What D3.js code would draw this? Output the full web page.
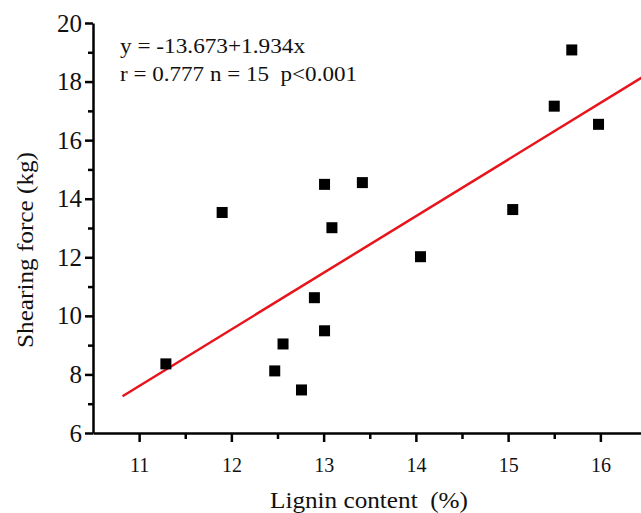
<!DOCTYPE html>
<html lang="en">
<head>
    <meta charset="UTF-8">
    <title>Shearing force vs lignin content</title>
    <script src="https://d3js.org/d3.v7.min.js"></script>
    <style>
        body { margin: 0; background: #fff; }
        svg { display: block; }
        .axis path, .axis line { stroke: #000; stroke-width: 2.5; }
    </style>
</head>
<body>
    <div id="chart"></div>
    <script>
        const width = 641;
        const height = 513;

        // data
        const lignin = [11.29, 11.90, 12.47, 12.56, 12.76, 12.90, 13.01, 13.01, 13.09, 13.42, 14.05, 15.05, 15.50, 15.69, 15.98];
        const shearing = [8.36, 13.53, 8.12, 9.04, 7.47, 10.62, 9.49, 14.49, 13.01, 14.55, 12.02, 13.63, 17.16, 19.08, 16.54];
        const xTicks = [11, 12, 13, 14, 15, 16];
        const yTicks = [6, 8, 10, 12, 14, 16, 18, 20];
        const fitIntercept = -13.673;
        const fitSlope = 1.934;
        const fitRange = [10.82, 16.6];
        const statLines = ["y = -13.673+1.934x", "r = 0.777 n = 15  p<0.001"];

        const svg = d3.select("#chart").append("svg")
            .attr("width", width)
            .attr("height", height);

        const x = d3.scaleLinear().domain([10.5, 16.5]).range([93, 646.5]);
        const y = d3.scaleLinear().domain([6, 20]).range([433, 23]);
        const serif = "Liberation Serif";

        // fitted line
        const line = d3.line().x(d => x(d)).y(d => y(fitIntercept + fitSlope * d));
        svg.append("path")
            .datum(fitRange)
            .attr("d", line)
            .attr("fill", "none")
            .attr("stroke", "#e8141b")
            .attr("stroke-width", 2.5);

        // points
        const s = 11;
        svg.selectAll("rect.pt")
            .data(lignin.map((v, i) => [v, shearing[i]]))
            .join("rect")
            .attr("class", "pt")
            .attr("x", d => x(d[0]) - s / 2)
            .attr("y", d => y(d[1]) - s / 2)
            .attr("width", s)
            .attr("height", s)
            .attr("fill", "#000");

        // x axis (minor + major)
        svg.append("g").attr("class", "axis")
            .attr("transform", `translate(0,${y(6)})`)
            .call(d3.axisBottom(x).tickValues(d3.range(11.5, 16.5, 1)).tickSize(6).tickFormat(""))
            .select(".domain").remove();
        svg.append("g").attr("class", "axis")
            .attr("transform", `translate(0,${y(6)})`)
            .call(d3.axisBottom(x).tickValues(xTicks).tickSize(9).tickSizeOuter(0).tickPadding(16).tickFormat(d3.format("d")))
            .call(g => g.selectAll("text").style("font-size", "20px").style("font-family", serif).style("fill", "#111"));

        // y axis (minor + major)
        svg.append("g").attr("class", "axis")
            .attr("transform", `translate(${x(10.5)},0)`)
            .call(d3.axisLeft(y).tickValues(d3.range(7, 20, 2)).tickSize(5).tickFormat(""))
            .select(".domain").remove();
        svg.append("g").attr("class", "axis")
            .attr("transform", `translate(${x(10.5)},0)`)
            .call(d3.axisLeft(y).tickValues(yTicks).tickSize(8).tickSizeOuter(0).tickPadding(3).tickFormat(d3.format("d")))
            .call(g => g.selectAll("text").style("font-size", "25px").style("font-family", serif).style("fill", "#111"));

        // titles
        svg.append("text")
            .attr("x", 270).attr("y", 508)
            .style("font-size", "23px")
            .style("font-family", serif)
            .style("fill", "#111")
            .attr("textLength", 198)
            .attr("lengthAdjust", "spacingAndGlyphs")
            .style("white-space", "pre")
            .text("Lignin content  (%)");
        svg.append("text")
            .attr("transform", "translate(33,250) rotate(-90)")
            .attr("x", -98)
            .style("font-size", "23px")
            .style("font-family", serif)
            .style("fill", "#111")
            .attr("textLength", 196)
            .attr("lengthAdjust", "spacingAndGlyphs")
            .text("Shearing force (kg)");

        // regression annotation
        const statWidths = [185, 237];
        svg.selectAll("text.stat")
            .data(statLines)
            .join("text")
            .attr("class", "stat")
            .attr("x", 120)
            .attr("y", (d, i) => 53 + i * 28)
            .style("font-size", "20px")
            .style("font-family", serif)
            .style("fill", "#111")
            .attr("textLength", (d, i) => statWidths[i])
            .attr("lengthAdjust", "spacingAndGlyphs")
            .style("white-space", "pre")
            .text(d => d);
    </script>
</body>
</html>
